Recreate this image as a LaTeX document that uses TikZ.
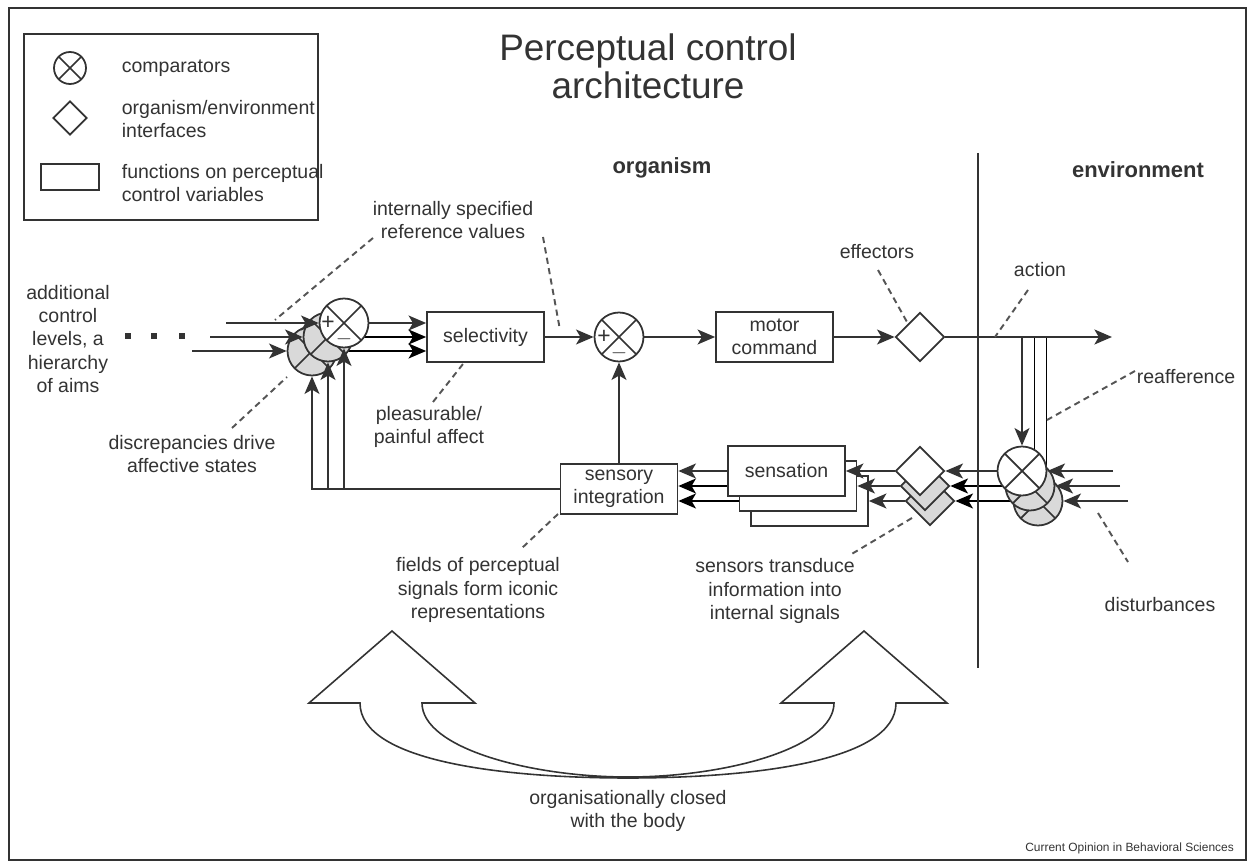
\documentclass[tikz,border=0pt]{standalone}
\usepackage{fontspec}
\setmainfont{Liberation Sans}
\usetikzlibrary{shapes.geometric,arrows.meta,calc,positioning}
\pgfdeclarelayer{bg}
\pgfsetlayers{bg,main}
\definecolor{ink}{HTML}{333333}
\definecolor{shade}{HTML}{D9D9D9}
\definecolor{lead}{HTML}{555555}

\begin{document}
\begin{tikzpicture}[x=0.02cm,y=-0.02cm,line width=1pt,color=ink,
  body/.style={font=\fontsize{11.1}{13.2}\selectfont,align=center,inner sep=0pt},
  head/.style={font=\fontsize{12.5}{14}\selectfont\bfseries,inner sep=0pt},
  comp/.style={circle,draw,fill=white,minimum size=.98cm,inner sep=0pt,
    path picture={\draw (path picture bounding box.north west) -- (path picture bounding box.south east)
      (path picture bounding box.north east) -- (path picture bounding box.south west);}},
  compback/.style={comp,fill=shade},
  iface/.style={diamond,draw,fill=white,minimum width=.98cm,minimum height=.98cm,inner sep=0pt},
  ifaceback/.style={iface,fill=shade},
  func/.style={rectangle,draw,fill=white,minimum width=2.34cm,minimum height=1cm,body},
  sig/.style={-{Stealth[length=10pt,width=8.5pt,inset=2.5pt]},line width=1.1pt},
  leader/.style={draw=lead,line width=1.1pt,dash pattern=on 3.5pt off 2.5pt},
  pm/.style={font=\fontsize{13}{13}\selectfont,inner sep=0pt},
  dot/.style={rectangle,fill,minimum size=.11cm,inner sep=0pt}]
\useasboundingbox (0,0) rectangle (1252,868);
\draw[line width=.9pt] (9,8) rectangle (1246,860);

% legend
\draw[line width=.9pt] (24,34) rectangle (318,220);
\node[comp,minimum size=.64cm] (keycomp) at (70,68) {};
\node[iface,minimum width=.68cm,minimum height=.68cm] (keyiface) at (70,118) {};
\node[draw,minimum width=1.16cm,minimum height=.52cm] (keyfunc) at (70,177) {};
\node[body,anchor=west,align=left] (keycomptxt) at (121,68) {comparators};
\node[body,anchor=west,align=left] (keyifacetxt) at (121,119) {organism/environment\\interfaces};
\node[body,anchor=west,align=left] (keyfunctxt) at (121,183) {functions on perceptual\\control variables};

% headings
\node[font=\fontsize{21}{21.5}\selectfont,align=center] (title) at (648,66) {Perceptual control\\architecture};
\node[head] (orgtxt) at (662,168) {organism};
\node[head] (envtxt) at (1138,170) {environment};
\coordinate (divtop) at (978,153);
\coordinate (divbot) at (978,668);
\draw (divtop) -- (divbot);

% upper loop
\foreach \x [count=\i] in {128,154,182} \node[dot] (dot\i) at (\x,336) {};
\node[compback] (cl3) at (312,351) {};
\node[compback] (cl2) at (328,337) {};
\node[comp] (cl1) at (344,323) {};
\node[pm] (clplus) at ($(cl1)+(-16,0)$) {+};
\node[pm] (clminus) at ($(cl1)+(0,16)$) {$-$};
\node[func] (sel) at (485.5,337) {selectivity};
\node[comp] (cm) at (619,337) {};
\node[pm] (cmplus) at ($(cm)+(-15,0)$) {+};
\node[pm] (cmminus) at ($(cm)+(0,16)$) {$-$};
\node[func] (motor) at (774.5,337) {motor\\command};
\node[iface] (eff) at (920,337) {};
\coordinate (act) at (1112,337);

% lower loop
\node[func] (si) at (619,489) {sensory\\integration};
\node[func] (s3) at (809.5,501) {};
\node[func] (s2) at (798,486) {};
\node[func] (s1) at (786.5,471) {sensation};
\node[ifaceback] (d3) at (930,501) {};
\node[ifaceback] (d2) at (925,486) {};
\node[iface] (d1) at (920,471) {};
\node[compback] (cr3) at (1038,501) {};
\node[compback] (cr2) at (1030,486) {};
\node[comp] (cr1) at (1022,471) {};

% connectors
\coordinate (inA) at (226,323);
\coordinate (inB) at (210,337);
\coordinate (inC) at (192,351);
\draw[sig] (inA) -- (cl1);
\draw[sig] (inB) -- (cl2);
\draw[sig] (inC) -- (cl3);
\draw[sig] (cl1) -- (cl1 -| sel.west);
\begin{pgfonlayer}{bg}
\draw[sig] (cl2.center) -- (cl2 -| sel.west);
\draw[sig] (cl3.center) -- (cl3 -| sel.west);
\draw[sig] (cr2.center) -- (d2);
\draw[sig] (cr3.center) -- (d3);
\draw[sig] (s2.center) -- (s2 -| si.east);
\draw[sig] (s3.center) -- (s3 -| si.east);
\draw ($(cr1.center |- act)+(12,0)$) -- ($(cr1.center)+(12,0)$);
\draw ($(cr1.center |- act)+(24,0)$) -- ($(cr1.center)+(24,0)$);
\end{pgfonlayer}
\draw[sig] (si.west) -| (cl3.south);
\draw[sig] (cl2.south |- si.west) -- (cl2.south);
\draw[sig] (cl1.south |- si.west) -- (cl1.south);
\draw[sig] (sel) -- (cm);
\draw[sig] (cm) -- (motor);
\draw[sig] (motor) -- (eff);
\draw[sig] (eff) -- (act);
\draw[sig] (si) -- (cm);
\draw[sig] (cr1.north |- act) -- (cr1.north);
\coordinate (dA) at (1113,471);
\coordinate (dB) at (1120,486);
\coordinate (dC) at (1128,501);
\draw[sig] (dA) -- (cr1);
\draw[sig] (dB) -- (cr2);
\draw[sig] (dC) -- (cr3);
\draw[sig] (cr1) -- (d1);
\draw[sig] (d1) -- (s1);
\draw[sig] (d2) -- (s2);
\draw[sig] (d3) -- (s3);
\draw[sig] (s1) -- (s1 -| si.east);

% labels
\node[body] (levels) at (68,339) {additional\\control\\levels, a\\hierarchy\\of aims};
\node[body] (intref) at (453,220) {internally specified\\reference values};
\node[body] (effxt) at (877,252) {effectors};
\node[body] (acttxt) at (1040,270) {action};
\node[body] (reaftxt) at (1186,377) {reafference};
\node[body] (disctxt) at (192,454) {discrepancies drive\\affective states};
\node[body] (pleatxt) at (429,427) {pleasurable/\\painful affect};
\node[body] (fieldtxt) at (478,590) {fields of perceptual\\signals form iconic\\representations};
\node[body] (senstxt) at (775,591) {sensors transduce\\information into\\internal signals};
\node[body] (disttxt) at (1160,605) {disturbances};
\node[body] (closedtxt) at (628,811) {organisationally closed\\with the body};
\node[anchor=east,font=\fontsize{6.8}{8}\selectfont] (src) at (1240,848) {Current Opinion in Behavioral Sciences};

% leaders
\coordinate (refA) at (373,238);   \coordinate (refB) at (275,320);
\coordinate (refC) at (543,237);   \coordinate (refD) at (560,330);
\coordinate (pleaA) at (433,402);  \coordinate (pleaB) at (463,364);
\coordinate (discA) at (232,428);  \coordinate (discB) at (287,377);
\coordinate (effA) at (878,270);   \coordinate (effB) at (907,322);
\coordinate (actA) at (1028,290);  \coordinate (actB) at (995,337);
\coordinate (reafA) at (1135,371); \coordinate (reafB) at (1047,420);
\coordinate (distA) at (1098,513); \coordinate (distB) at (1128,562);
\coordinate (fieldA) at (558,514); \coordinate (fieldB) at (522,548);
\coordinate (sensA) at (912,518);  \coordinate (sensB) at (850,555);
\foreach \a/\b in {refA/refB,refC/refD,pleaA/pleaB,discA/discB,effA/effB,
  actA/actB,reafA/reafB,distA/distB,fieldA/fieldB,sensA/sensB}
  \draw[leader] (\a) -- (\b);

% closed loop arrows
\draw[line width=.9pt,line join=miter] (360,703) -- (309,703) -- (392,631) -- (475,703) -- (422,703)
  .. controls (422,748) and (530,777) .. (628,777)
  .. controls (726,777) and (834,748) .. (834,703)
  -- (781,703) -- (864,631) -- (947,703) -- (896,703)
  .. controls (896,762) and (750,778) .. (628,778)
  .. controls (506,778) and (360,762) .. (360,703) -- cycle;
\end{tikzpicture}
\end{document}
